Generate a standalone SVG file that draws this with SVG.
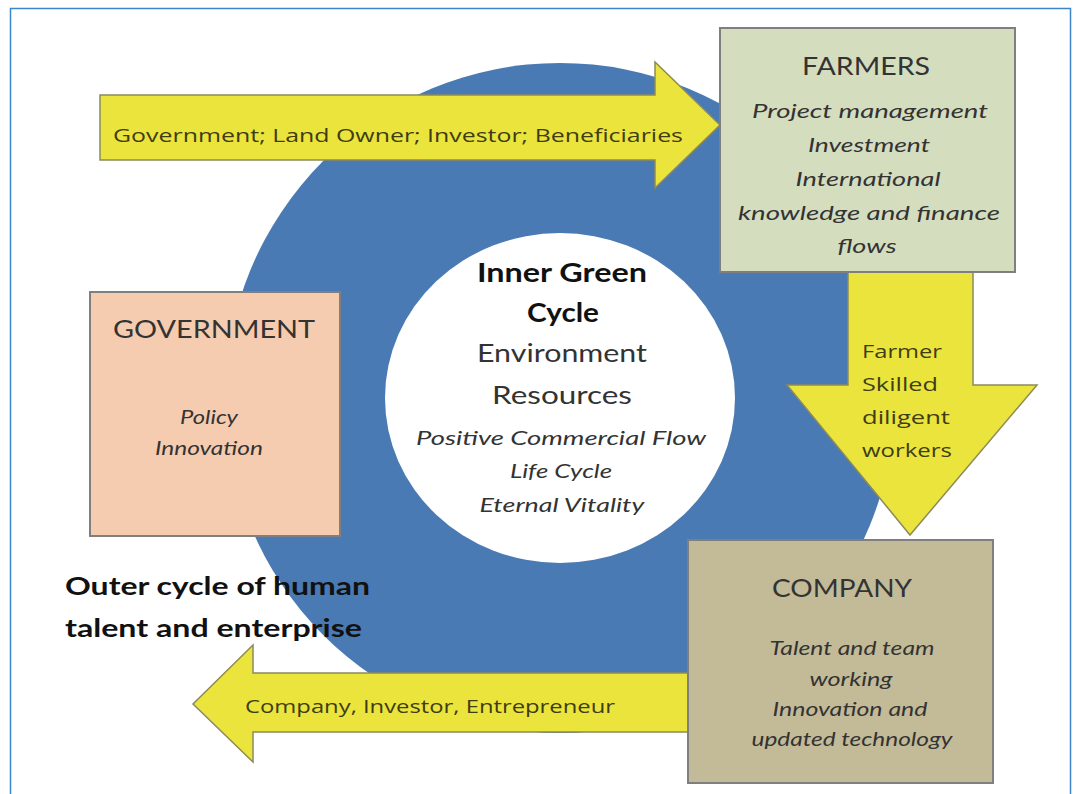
<svg xmlns="http://www.w3.org/2000/svg" width="1077" height="794" viewBox="0 0 1077 794">
<style>
  .box{stroke:#7f7f7f;stroke-width:2}
  .arrow{fill:#ebe43c;stroke:#8c8a5c;stroke-width:1.5}
  .t{font-family:Lato,"Open Sans","Liberation Sans",sans-serif;fill:#333;text-anchor:middle}
  .title{font-size:25px}
  .it{font-style:italic;font-size:20px}
  .at{font-family:"Open Sans","Liberation Sans",sans-serif;fill:#3e3d14;font-size:19px}
  .b{font-weight:bold;fill:#111}
</style>
<rect x="0" y="0" width="1077" height="794" fill="#ffffff"/>
<rect x="10.5" y="8.5" width="1060" height="800" fill="none" stroke="#3a86c8" stroke-width="1.5"/>

<g id="outer-cycle">
  <circle cx="560" cy="398" r="335" fill="#4a7ab4"/>
</g>

<g id="inner-cycle">
  <ellipse cx="560" cy="398" rx="175" ry="165" fill="#ffffff"/>
  <text class="t b" x="562" y="282" font-size="26" textLength="170" lengthAdjust="spacingAndGlyphs">Inner Green</text>
  <text class="t b" x="563" y="322" font-size="26" textLength="72" lengthAdjust="spacingAndGlyphs">Cycle</text>
  <text class="t" x="562" y="362" font-size="25" textLength="170" lengthAdjust="spacingAndGlyphs">Environment</text>
  <text class="t" x="562" y="404" font-size="25" textLength="140" lengthAdjust="spacingAndGlyphs">Resources</text>
  <text class="t it" x="561" y="445" textLength="290" lengthAdjust="spacingAndGlyphs">Positive Commercial Flow</text>
  <text class="t it" x="561" y="478" textLength="102" lengthAdjust="spacingAndGlyphs">Life Cycle</text>
  <text class="t it" x="562" y="512" textLength="165" lengthAdjust="spacingAndGlyphs">Eternal Vitality</text>
</g>

<g id="connectors">
  <g id="arrow-top">
    <polygon class="arrow" points="100,95 655,95 655,62 720,125 655,188 655,160 100,160"/>
    <text class="at" x="113" y="142" textLength="570" lengthAdjust="spacingAndGlyphs">Government;  Land Owner; Investor; Beneficiaries</text>
  </g>
  <g id="arrow-down">
    <polygon class="arrow" points="848,272 973,272 973,385 1037,385 910,535 787,385 848,385"/>
    <text class="at" font-size="20" x="862" y="358" textLength="80" lengthAdjust="spacingAndGlyphs">Farmer</text>
    <text class="at" font-size="20" x="862" y="391" textLength="76" lengthAdjust="spacingAndGlyphs">Skilled</text>
    <text class="at" font-size="20" x="862" y="424" textLength="88" lengthAdjust="spacingAndGlyphs">diligent</text>
    <text class="at" font-size="20" x="862" y="457" textLength="90" lengthAdjust="spacingAndGlyphs">workers</text>
  </g>
  <g id="arrow-bottom">
    <polygon class="arrow" points="688,673 253,673 253,645 193,704 253,762 253,732 688,732"/>
    <text class="at" x="245" y="713" textLength="370" lengthAdjust="spacingAndGlyphs">Company, Investor, Entrepreneur</text>
  </g>
</g>

<g id="farmers">
  <rect class="box" x="720" y="28" width="295" height="244" fill="#d5ddbf"/>
  <text class="t title" x="866" y="75" textLength="128" lengthAdjust="spacingAndGlyphs">FARMERS</text>
  <text class="t it" x="870" y="118" textLength="236" lengthAdjust="spacingAndGlyphs">Project management</text>
  <text class="t it" x="869" y="152" textLength="122" lengthAdjust="spacingAndGlyphs">Investment</text>
  <text class="t it" x="868" y="186" textLength="145" lengthAdjust="spacingAndGlyphs">International</text>
  <text class="t it" x="869" y="220" textLength="262" lengthAdjust="spacingAndGlyphs">knowledge and finance</text>
  <text class="t it" x="867" y="253" textLength="59" lengthAdjust="spacingAndGlyphs">flows</text>
</g>

<g id="government">
  <rect class="box" x="90" y="292" width="250" height="244" fill="#f6ccb0"/>
  <text class="t title" x="214" y="338" textLength="202" lengthAdjust="spacingAndGlyphs">GOVERNMENT</text>
  <text class="t it" x="209" y="424" font-size="18" textLength="58" lengthAdjust="spacingAndGlyphs">Policy</text>
  <text class="t it" x="209" y="455" font-size="18" textLength="108" lengthAdjust="spacingAndGlyphs">Innovation</text>
</g>

<g id="company">
  <rect class="box" x="688" y="540" width="305" height="243" fill="#c3bb97"/>
  <text class="t title" x="842" y="597" textLength="140" lengthAdjust="spacingAndGlyphs">COMPANY</text>
  <text class="t it" x="852" y="655" font-size="19" textLength="165" lengthAdjust="spacingAndGlyphs">Talent and team</text>
  <text class="t it" x="851" y="686" font-size="19" textLength="83" lengthAdjust="spacingAndGlyphs">working</text>
  <text class="t it" x="850" y="716" font-size="19" textLength="155" lengthAdjust="spacingAndGlyphs">Innovation and</text>
  <text class="t it" x="852" y="746" font-size="19" textLength="201" lengthAdjust="spacingAndGlyphs">updated technology</text>
</g>

<g id="outer-label">
  <text class="t b" x="65" y="595" font-size="24" style="text-anchor:start" textLength="305" lengthAdjust="spacingAndGlyphs">Outer cycle of human</text>
  <text class="t b" x="65" y="637" font-size="24" style="text-anchor:start" textLength="297" lengthAdjust="spacingAndGlyphs">talent and enterprise</text>
</g>
</svg>
